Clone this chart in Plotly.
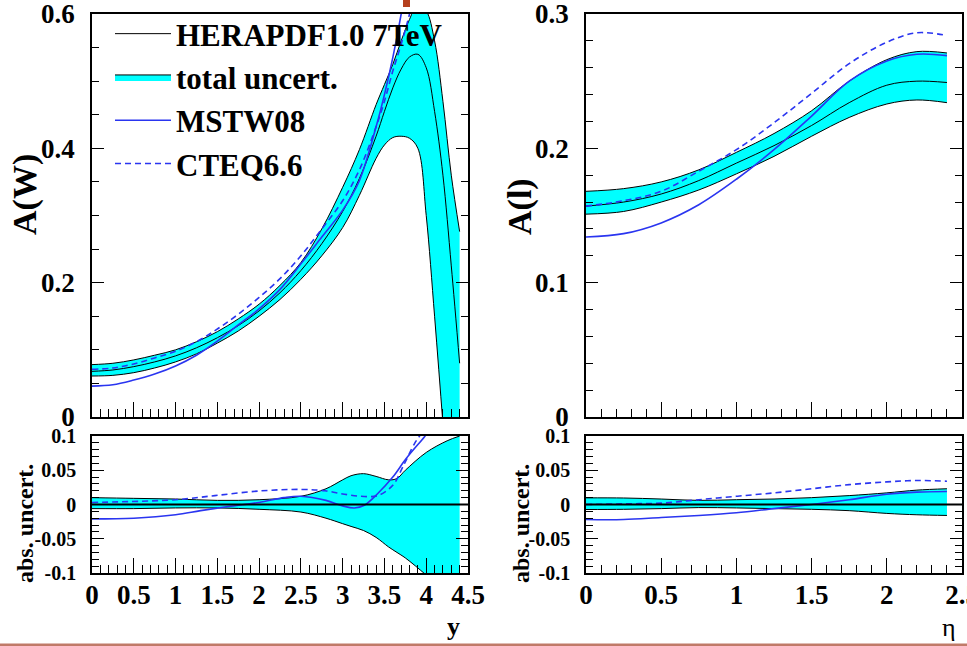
import plotly.graph_objects as go

# ---------------- data: W asymmetry vs y (top-left) ----------------
y_w = [0, 0.25, 0.5, 0.75, 1.0, 1.25, 1.5, 1.75, 2.0, 2.25, 2.5, 2.75, 3.0, 3.2, 3.4, 3.5, 3.6, 3.7, 3.8, 3.9, 4.0, 4.1, 4.2, 4.3, 4.4]
aw_central = [0.068, 0.070, 0.075, 0.082, 0.091, 0.103, 0.118, 0.136, 0.158, 0.185, 0.218, 0.258, 0.306, 0.355, 0.418, 0.455, 0.490, 0.518, 0.536, 0.540, 0.520, 0.455, 0.360, 0.225, 0.080]
aw_upper = [0.078, 0.080, 0.085, 0.092, 0.100, 0.112, 0.127, 0.146, 0.168, 0.196, 0.230, 0.280, 0.342, 0.398, 0.465, 0.495, 0.525, 0.560, 0.592, 0.615, 0.605, 0.560, 0.470, 0.360, 0.276]
aw_lower = [0.061, 0.062, 0.066, 0.073, 0.082, 0.094, 0.110, 0.128, 0.150, 0.175, 0.205, 0.240, 0.282, 0.330, 0.385, 0.405, 0.416, 0.418, 0.415, 0.400, 0.300, 0.150, -0.010, -0.170, -0.330]

y_mstw = [0, 0.25, 0.5, 0.75, 1.0, 1.25, 1.5, 1.75, 2.0, 2.25, 2.5, 2.75, 3.0, 3.2, 3.4, 3.5, 3.6, 3.7, 3.8]
aw_mstw = [0.046, 0.048, 0.055, 0.064, 0.076, 0.092, 0.113, 0.137, 0.161, 0.190, 0.228, 0.268, 0.308, 0.352, 0.432, 0.480, 0.535, 0.600, 0.680]

y_cteq = [0, 0.25, 0.5, 0.75, 1.0, 1.25, 1.5, 1.75, 2.0, 2.25, 2.5, 2.75, 3.0, 3.2, 3.4, 3.5, 3.6, 3.7, 3.8, 3.9]
aw_cteq = [0.071, 0.073, 0.079, 0.088, 0.098, 0.112, 0.131, 0.153, 0.178, 0.206, 0.240, 0.280, 0.322, 0.368, 0.432, 0.470, 0.515, 0.555, 0.600, 0.660]

# ---------------- data: abs. uncert. vs y (bottom-left) ----------------
y_d = [0, 0.5, 1.0, 1.5, 2.0, 2.5, 2.8, 3.0, 3.1, 3.25, 3.4, 3.55, 3.65, 3.75, 4.0, 4.25, 4.4]
dw_upper = [0.010, 0.009, 0.008, 0.006, 0.007, 0.012, 0.023, 0.036, 0.042, 0.045, 0.041, 0.036, 0.038, 0.050, 0.076, 0.093, 0.100]
dw_lower = [-0.006, -0.006, -0.005, -0.005, -0.007, -0.011, -0.020, -0.028, -0.032, -0.038, -0.048, -0.062, -0.070, -0.078, -0.103, -0.130, -0.140]

y_dm = [0, 0.5, 1.0, 1.3, 1.63, 2.0, 2.3, 2.5, 2.8, 3.0, 3.14, 3.26, 3.42, 3.6, 3.76, 3.98, 4.05]
dw_mstw = [-0.021, -0.020, -0.015, -0.009, -0.003, 0.003, 0.010, 0.012, 0.006, -0.002, -0.005, -0.001, 0.016, 0.040, 0.067, 0.099, 0.110]

y_dc = [0, 1.0, 1.47, 2.03, 2.51, 2.79, 3.02, 3.22, 3.42, 3.6, 3.72, 3.86, 3.92, 3.98]
dw_cteq = [0.003, 0.007, 0.013, 0.020, 0.022, 0.020, 0.015, 0.012, 0.013, 0.028, 0.055, 0.089, 0.100, 0.112]

# ---------------- data: lepton asymmetry vs eta (top-right) ----------------
eta = [0, 0.25, 0.5, 0.75, 1.0, 1.25, 1.5, 1.75, 2.0, 2.2, 2.4]
al_central = [0.157, 0.160, 0.166, 0.176, 0.189, 0.202, 0.217, 0.234, 0.247, 0.250, 0.249]
al_upper = [0.168, 0.170, 0.175, 0.184, 0.197, 0.211, 0.228, 0.250, 0.266, 0.272, 0.271]
al_lower = [0.151, 0.153, 0.160, 0.169, 0.181, 0.194, 0.209, 0.223, 0.233, 0.236, 0.234]
al_mstw = [0.134, 0.1365, 0.1445, 0.158, 0.177, 0.199, 0.224, 0.250, 0.265, 0.270, 0.269]
al_cteq = [0.157, 0.161, 0.168, 0.183, 0.199, 0.219, 0.241, 0.263, 0.279, 0.286, 0.284]

# ---------------- data: abs. uncert. vs eta (bottom-right) ----------------
dl_upper = [0.0097, 0.0095, 0.008, 0.006, 0.007, 0.008, 0.010, 0.013, 0.017, 0.021, 0.023]
dl_lower = [-0.0073, -0.007, -0.006, -0.0045, -0.005, -0.006, -0.007, -0.009, -0.013, -0.015, -0.016]
dl_mstw = [-0.022, -0.022, -0.019, -0.016, -0.012, -0.006, 0.0, 0.007, 0.015, 0.018, 0.019]
dl_cteq = [0.0, 0.001, 0.002, 0.007, 0.012, 0.017, 0.023, 0.029, 0.033, 0.035, 0.034]

# ---------------- tick labels ----------------
x_left_ticks = [0, 0.5, 1, 1.5, 2, 2.5, 3, 3.5, 4, 4.5]
x_left_text = ["0", "0.5", "1", "1.5", "2", "2.5", "3", "3.5", "4", "4.5"]
x_right_ticks = [0, 0.5, 1, 1.5, 2, 2.5]
x_right_text = ["0", "0.5", "1", "1.5", "2", "2.5"]
yw_ticks = [0, 0.2, 0.4, 0.6]
yw_text = ["0", "0.2", "0.4", "0.6"]
yl_ticks = [0, 0.1, 0.2, 0.3]
yl_text = ["0", "0.1", "0.2", "0.3"]
yd_ticks = [-0.1, -0.05, 0, 0.05, 0.1]
yd_text = ["-0.1", "-0.05", "0", "0.05", "0.1"]

names = ["HERAPDF1.0 7TeV", "total uncert.", "MSTW08", "CTEQ6.6"]

FONT = "Liberation Serif"
BLUE = "#2a35f0"
CYAN = "#00FFFF"
DASH = "6px,4px"

fig = go.Figure()


def add_band(xs, up, lo, xa, ya, legend):
    fig.add_trace(go.Scatter(x=xs, y=up, mode="lines", line=dict(color="black", width=1, shape="spline"),
                             showlegend=False, xaxis=xa, yaxis=ya, hoverinfo="skip"))
    fig.add_trace(go.Scatter(x=xs, y=lo, mode="lines", line=dict(color="black", width=1, shape="spline"),
                             fill="tonexty", fillcolor=CYAN, name=names[1], legendrank=2,
                             showlegend=legend, xaxis=xa, yaxis=ya, hoverinfo="skip"))


def add_line(xs, ys, xa, ya, name, rank, color, width, dash, legend):
    fig.add_trace(go.Scatter(x=xs, y=ys, mode="lines",
                             line=dict(color=color, width=width, dash=dash, shape="spline"),
                             name=name, legendrank=rank, showlegend=legend,
                             xaxis=xa, yaxis=ya, hoverinfo="skip"))


# top-left
add_band(y_w, aw_upper, aw_lower, "x", "y", True)
add_line(y_w, aw_central, "x", "y", names[0], 1, "black", 1, "solid", True)
add_line(y_mstw, aw_mstw, "x", "y", names[2], 3, BLUE, 1.6, "solid", True)
add_line(y_cteq, aw_cteq, "x", "y", names[3], 4, BLUE, 1.6, DASH, True)

# top-right
add_band(eta, al_upper, al_lower, "x2", "y2", False)
add_line(eta, al_central, "x2", "y2", names[0], 1, "black", 1, "solid", False)
add_line(eta, al_mstw, "x2", "y2", names[2], 3, BLUE, 1.6, "solid", False)
add_line(eta, al_cteq, "x2", "y2", names[3], 4, BLUE, 1.6, DASH, False)

# bottom-left
add_band(y_d, dw_upper, dw_lower, "x3", "y3", False)
add_line(y_dm, dw_mstw, "x3", "y3", names[2], 3, BLUE, 1.6, "solid", False)
add_line(y_dc, dw_cteq, "x3", "y3", names[3], 4, BLUE, 1.6, DASH, False)

# bottom-right
add_band(eta, dl_upper, dl_lower, "x4", "y4", False)
add_line(eta, dl_mstw, "x4", "y4", names[2], 3, BLUE, 1.6, "solid", False)
add_line(eta, dl_cteq, "x4", "y4", names[3], 4, BLUE, 1.6, DASH, False)

# zero reference lines in the ratio panels
for xr, yr in (("x3", "y3"), ("x4", "y4")):
    fig.add_shape(type="line", xref=f"{xr} domain", yref=yr, x0=0, x1=1, y0=0, y1=0,
                  line=dict(color="black", width=2))

W, H = 967, 646
LX = [92 / W, 468 / W]
RX = [586 / W, 962 / W]
TOPY = [1 - 417 / H, 1 - 14 / H]
BOTY = [1 - 573 / H, 1 - 436 / H]

tick_big = dict(family=FONT, size=27, color="black", weight="bold")
tick_small = dict(family=FONT, size=20, color="black", weight="bold")


def xaxis(domain, rng, ticks, text, labels, anchor, minor_dt):
    return dict(domain=domain, range=rng, anchor=anchor, showline=True, linecolor="black", linewidth=1.5,
                mirror=True, ticks="inside", ticklen=15, tickwidth=1, tickcolor="black",
                tickvals=ticks, ticktext=text, showticklabels=labels, tickfont=tick_big,
                ticklabelstandoff=-3, automargin=False, ticklabeloverflow="allow",
                minor=dict(ticks="inside", ticklen=8, tickwidth=1, tickcolor="black", dtick=minor_dt, tick0=0),
                showgrid=False, zeroline=False, fixedrange=True)


def yaxis(domain, rng, ticks, text, anchor, minor_dt, font):
    return dict(domain=domain, range=rng, anchor=anchor, showline=True, linecolor="black", linewidth=1.5,
                mirror="ticks", ticks="inside", ticklen=12, tickwidth=1, tickcolor="black",
                tickvals=ticks, ticktext=text, tickfont=font, ticklabelstandoff=10, automargin=False,
                ticklabeloverflow="allow",
                minor=dict(ticks="inside", ticklen=7, tickwidth=1, tickcolor="black", dtick=minor_dt, tick0=0),
                showgrid=False, zeroline=False, fixedrange=True)


fig.update_layout(
    width=W, height=H, margin=dict(l=0, r=0, t=0, b=0, autoexpand=False),
    paper_bgcolor="white", plot_bgcolor="white",
    xaxis=xaxis(LX, [0, 4.5], x_left_ticks, x_left_text, False, "y", 0.1),
    yaxis=yaxis(TOPY, [0, 0.6], yw_ticks, yw_text, "x", 0.05, tick_big),
    xaxis2=xaxis(RX, [0, 2.5], x_right_ticks, x_right_text, False, "y2", 0.1),
    yaxis2=yaxis(TOPY, [0, 0.3], yl_ticks, yl_text, "x2", 0.02, tick_big),
    xaxis3=xaxis(LX, [0, 4.5], x_left_ticks, x_left_text, True, "y3", 0.1),
    yaxis3=yaxis(BOTY, [-0.1, 0.1], yd_ticks, yd_text, "x3", 0.01, tick_small),
    xaxis4=xaxis(RX, [0, 2.5], x_right_ticks, x_right_text, True, "y4", 0.1),
    yaxis4=yaxis(BOTY, [-0.1, 0.1], yd_ticks, yd_text, "x4", 0.01, tick_small),
    legend=dict(x=110 / W, y=1 - 7 / H, xanchor="left", yanchor="top", bgcolor="rgba(0,0,0,0)",
                font=dict(family=FONT, size=31, color="black", weight="bold"),
                itemwidth=56, tracegroupgap=0, traceorder="normal"),
    showlegend=True,
)

ann_font = dict(family=FONT, size=34, color="black", weight="bold")
fig.add_annotation(text="A(W)", x=25 / W, y=1 - 195 / H, xref="paper", yref="paper", textangle=-90,
                   showarrow=False, font=ann_font, xanchor="center", yanchor="middle")
fig.add_annotation(text="A(l)", x=520 / W, y=1 - 207 / H, xref="paper", yref="paper", textangle=-90,
                   showarrow=False, font=ann_font, xanchor="center", yanchor="middle")
small_title = dict(family=FONT, size=24, color="black", weight="bold")
fig.add_annotation(text="abs. uncert.", x=25 / W, y=1 - 524 / H, xref="paper", yref="paper", textangle=-90,
                   showarrow=False, font=small_title, xanchor="center", yanchor="middle")
fig.add_annotation(text="abs. uncert.", x=521 / W, y=1 - 524 / H, xref="paper", yref="paper", textangle=-90,
                   showarrow=False, font=small_title, xanchor="center", yanchor="middle")
fig.add_annotation(text="y", x=453 / W, y=1 - 626 / H, xref="paper", yref="paper", showarrow=False,
                   font=dict(family=FONT, size=26, color="black", weight="bold"), xanchor="center", yanchor="middle")
fig.add_annotation(text="η", x=949 / W, y=1 - 627 / H, xref="paper", yref="paper", showarrow=False,
                   font=dict(family=FONT, size=26, color="black"), xanchor="center", yanchor="middle")

# slide artefacts: thin brown rule at the bottom and small mark at the top
fig.add_shape(type="rect", xref="paper", yref="paper", x0=0, x1=1, y0=0, y1=2.5 / H,
              line=dict(width=0), fillcolor="#c07a68")
fig.add_shape(type="rect", xref="paper", yref="paper", x0=403 / W, x1=410 / W, y0=1 - 7 / H, y1=1,
              line=dict(width=0), fillcolor="#b5401e")

fig.write_html("out.html")
